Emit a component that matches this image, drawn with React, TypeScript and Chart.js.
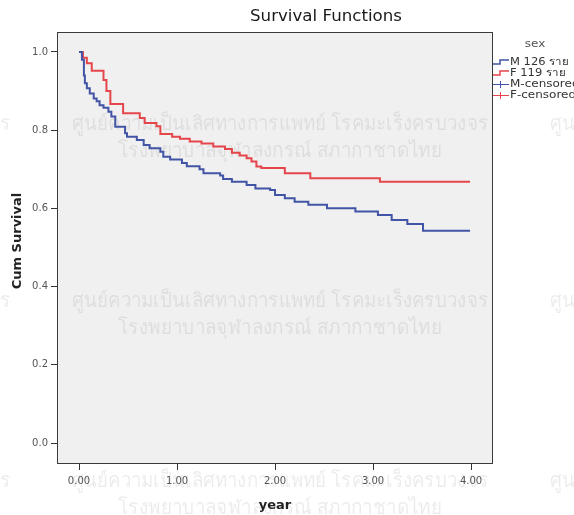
import { useEffect, useRef } from 'react';
import { Chart, registerables } from 'chart.js';

Chart.register(...registerables);

// Kaplan-Meier steps (time in years, cumulative survival)
const maleTimes = [0, 0.03, 0.05, 0.06, 0.08, 0.11, 0.15, 0.18, 0.21, 0.25, 0.3, 0.33, 0.37, 0.47, 0.49, 0.59, 0.66, 0.72, 0.83, 0.86, 0.93, 1.05, 1.1, 1.23, 1.27, 1.44, 1.47, 1.56, 1.71, 1.8, 1.95, 2.0, 2.1, 2.2, 2.34, 2.53, 2.82, 3.05, 3.19, 3.35, 3.51, 3.99];
const maleSurvival = [1.0, 0.98, 0.94, 0.92, 0.907, 0.894, 0.881, 0.874, 0.864, 0.857, 0.847, 0.835, 0.809, 0.792, 0.783, 0.775, 0.762, 0.754, 0.745, 0.732, 0.725, 0.716, 0.708, 0.7, 0.69, 0.684, 0.675, 0.668, 0.66, 0.651, 0.647, 0.634, 0.626, 0.617, 0.609, 0.6, 0.592, 0.583, 0.57, 0.56, 0.543, 0.543];
const femaleTimes = [0, 0.04, 0.08, 0.13, 0.25, 0.28, 0.32, 0.45, 0.62, 0.67, 0.79, 0.83, 0.95, 1.03, 1.13, 1.25, 1.37, 1.49, 1.56, 1.64, 1.71, 1.76, 1.81, 1.86, 2.1, 2.36, 3.07, 3.99];
const femaleSurvival = [1.0, 0.985, 0.971, 0.952, 0.928, 0.9, 0.867, 0.843, 0.831, 0.818, 0.81, 0.79, 0.783, 0.778, 0.771, 0.766, 0.758, 0.752, 0.742, 0.735, 0.728, 0.72, 0.707, 0.703, 0.69, 0.677, 0.668, 0.668];

const seriesLabels = ['M 126 ราย', 'F 119 ราย'];
const censoredLabels = ['M-censored', 'F-censored'];
const legendTitle = 'sex';
const chartTitle = 'Survival Functions';
const xAxisTitle = 'year';
const yAxisTitle = 'Cum Survival';
const xTickValues = [0, 1, 2, 3, 4];
const yTickValues = [0, 0.2, 0.4, 0.6, 0.8, 1.0];
const watermarkLines = [
  'ศูนย์ความเป็นเลิศทางการแพทย์ โรคมะเร็งครบวงจร',
  'โรงพยาบาลจุฬาลงกรณ์ สภากาชาดไทย',
];

const BLUE = '#4254a6';
const RED = '#e5464c';
const FONT = '"DejaVu Sans", "Liberation Sans", sans-serif';

function drawText(
  ctx: CanvasRenderingContext2D,
  s: string,
  x: number,
  y: number,
  font: string,
  color: string,
  align: CanvasTextAlign,
  sx = 1,
  rotate = 0
) {
  ctx.save();
  ctx.translate(x, y);
  if (rotate) ctx.rotate(rotate);
  ctx.scale(sx, 1);
  ctx.font = font;
  ctx.fillStyle = color;
  ctx.textAlign = align;
  ctx.textBaseline = 'middle';
  ctx.fillText(s, 0, 0);
  ctx.restore();
}

function drawFitted(ctx: CanvasRenderingContext2D, s: string, cx: number, cy: number, font: string, color: string, width: number) {
  ctx.save();
  ctx.font = font;
  const w = ctx.measureText(s).width || 1;
  ctx.restore();
  drawText(ctx, s, cx, cy, font, color, 'center', width / w);
}

const decorPlugin = {
  id: 'decor',
  beforeDraw(chart: Chart) {
    const { ctx, chartArea: a } = chart;
    ctx.save();
    ctx.fillStyle = '#ffffff';
    ctx.fillRect(0, 0, chart.width, chart.height);
    ctx.fillStyle = '#f0f0f0';
    ctx.fillRect(a.left, a.top, a.right - a.left, a.bottom - a.top);
    ctx.restore();
    // watermark
    const wmFont = '20px "Noto Sans", "DejaVu Sans", Tahoma, sans-serif';
    const color = 'rgba(0,0,0,0.08)';
    const rows = [124, 301, 481];
    const cols = [280 - 478, 280, 280 + 478];
    for (const r of rows) {
      for (const c of cols) {
        drawFitted(ctx, watermarkLines[0], c, r, wmFont, color, 416);
        drawFitted(ctx, watermarkLines[1], c, r + 27, wmFont, color, 324);
      }
    }
  },
  afterDraw(chart: Chart) {
    const { ctx, chartArea: a } = chart;
    ctx.save();
    ctx.strokeStyle = '#3a3a3a';
    ctx.lineWidth = 1;
    ctx.strokeRect(a.left + 0.5, a.top + 0.5, a.right - a.left - 1, a.bottom - a.top - 1);
    ctx.restore();

    drawFitted(ctx, chartTitle, 326, 17.5, `15px ${FONT}`, '#1a1a1a', 152);
    drawText(ctx, yAxisTitle, 18, 241, `bold 13px ${FONT}`, '#222', 'center', 1, -Math.PI / 2);
    drawText(ctx, xAxisTitle, 275, 506, `bold 13px ${FONT}`, '#222', 'center', 1);

    // legend
    drawText(ctx, legendTitle, 535, 44, `10px ${FONT}`, '#555', 'center', 1.2);
    const colors = [BLUE, RED];
    const rowsY = [62, 73, 84, 95];
    ctx.save();
    ctx.lineWidth = 1.5;
    seriesLabels.forEach((lab, i) => {
      const y = rowsY[i];
      ctx.strokeStyle = colors[i];
      ctx.beginPath();
      ctx.moveTo(493, y + 2);
      ctx.lineTo(500, y + 2);
      ctx.lineTo(500, y - 2);
      ctx.lineTo(509, y - 2);
      ctx.stroke();
      drawText(ctx, lab, 510, y, `10px ${FONT}`, '#333', 'left', 1.15);
    });
    censoredLabels.forEach((lab, i) => {
      const y = rowsY[i + 2];
      ctx.strokeStyle = colors[i];
      ctx.lineWidth = 1;
      ctx.beginPath();
      ctx.moveTo(493, y + 0.5);
      ctx.lineTo(509, y + 0.5);
      ctx.moveTo(500.5, y - 3);
      ctx.lineTo(500.5, y + 4);
      ctx.stroke();
      drawText(ctx, lab, 510, y, `10px ${FONT}`, '#333', 'left', 1.2);
    });
    ctx.restore();
  },
};

export default function App() {
  const ref = useRef<HTMLCanvasElement | null>(null);
  useEffect(() => {
    if (!ref.current) return;
    const chart = new Chart(ref.current, {
      type: 'line',
      data: {
        datasets: [
          {
            label: seriesLabels[0],
            data: maleTimes.map((t, i) => ({ x: t, y: maleSurvival[i] })),
            borderColor: BLUE,
            borderWidth: 2,
            stepped: 'before',
            pointRadius: 0,
            fill: false,
          },
          {
            label: seriesLabels[1],
            data: femaleTimes.map((t, i) => ({ x: t, y: femaleSurvival[i] })),
            borderColor: RED,
            borderWidth: 2,
            stepped: 'before',
            pointRadius: 0,
            fill: false,
          },
        ],
      },
      options: {
        responsive: false,
        animation: false,
        layout: { padding: { top: 32, right: 81, left: 0, bottom: 0 } },
        plugins: { legend: { display: false }, title: { display: false }, tooltip: { enabled: false } },
        scales: {
          x: {
            type: 'linear',
            min: -0.2245,
            max: 4.224,
            afterFit: (s: any) => { s.height = 51; },
            afterBuildTicks: (s: any) => { s.ticks = xTickValues.map((v) => ({ value: v })); },
            ticks: {
              callback: (v: any) => Number(v).toFixed(2),
              font: { family: FONT, size: 10 },
              color: '#555',
              padding: 5,
              maxRotation: 0,
              autoSkip: false,
            },
            grid: { drawOnChartArea: false, drawTicks: true, tickLength: 6, color: '#333' },
            border: { display: false },
          },
          y: {
            type: 'linear',
            min: -0.0537,
            max: 1.051,
            afterFit: (s: any) => { s.width = 57; },
            afterBuildTicks: (s: any) => { s.ticks = yTickValues.map((v) => ({ value: v })); },
            ticks: {
              callback: (v: any) => Number(v).toFixed(1),
              font: { family: FONT, size: 10 },
              color: '#555',
              padding: 3,
              autoSkip: false,
            },
            grid: { drawOnChartArea: false, drawTicks: true, tickLength: 6, color: '#333' },
            border: { display: false },
          },
        },
      },
      plugins: [decorPlugin],
    });
    return () => chart.destroy();
  }, []);
  return (
    <div style={{ position: 'absolute', left: 0, top: 0, width: 574, height: 515 }}>
      <canvas ref={ref} width={574} height={515} />
    </div>
  );
}
